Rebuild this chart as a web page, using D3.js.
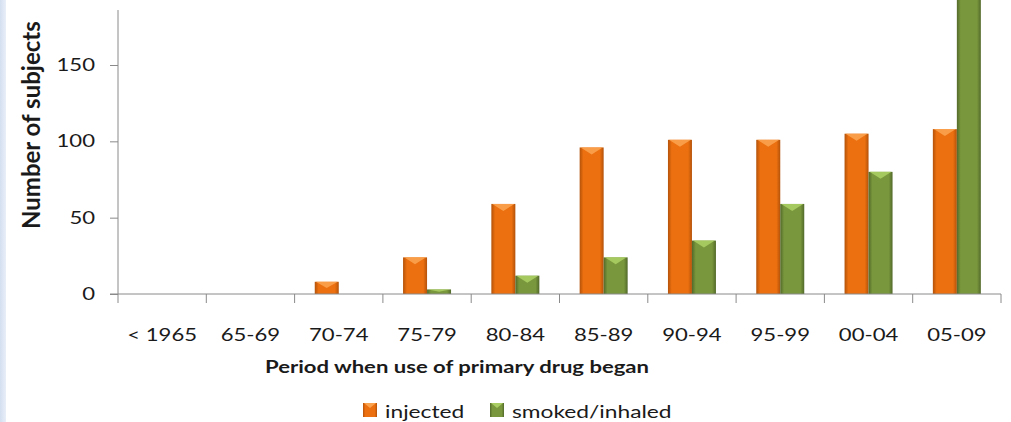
<!DOCTYPE html>
<html>
<head>
<meta charset="utf-8">
<script src="https://cdn.jsdelivr.net/npm/d3@7"></script>
<style>
  body { margin: 0; background: #fff; }
  svg { display: block; font-family: Lato, "Open Sans", sans-serif; }
</style>
</head>
<body>
<svg id="drawing" width="1011" height="422"></svg>
<script>
const categories = ["< 1965", "65-69", "70-74", "75-79", "80-84", "85-89", "90-94", "95-99", "00-04", "05-09"];
const injected = [0, 0, 8, 24, 59, 96, 101, 101, 105, 108];
const smoked = [0, 0, 0, 3, 12, 24, 35, 59, 80, 215];
const yTicks = [0, 50, 100, 150];
const seriesNames = ["injected", "smoked/inhaled"];

const colors = {
  "injected": { base: "#ec700f", edge: "#b3520a", top: "#fba24f" },
  "smoked/inhaled": { base: "#79973c", edge: "#52692a", top: "#aacd63" }
};

const svg = d3.select("svg#drawing");
const axisColor = "#8a8a8a";
const textColor = "#1a1a1a";
const stretch = 1.3; // the source picture is wide, text looks stretched

// left blue strip of the original frame
const strip = svg.append("defs").append("linearGradient").attr("id", "strip");
strip.append("stop").attr("offset", "0%").attr("stop-color", "#d3dff0");
strip.append("stop").attr("offset", "100%").attr("stop-color", "#e9eff8");
svg.append("rect")
  .attr("x", 0).attr("y", 0).attr("width", 6).attr("height", 422)
  .attr("fill", "url(#strip)");

const x0 = d3.scaleBand().domain(categories).range([118, 1001]).padding(0);
const x1 = d3.scaleBand().domain(seriesNames).range([0, x0.bandwidth()])
  .paddingInner(0).paddingOuter(0.84);
const y = d3.scaleLinear().domain([0, 150]).range([294, 65]);

// gradients for the bevelled bars
const defs = svg.append("defs");
seriesNames.forEach((s, i) => {
  const c = colors[s];
  const g = defs.append("linearGradient").attr("id", "grad" + i)
    .attr("x1", 0).attr("x2", 1).attr("y1", 0).attr("y2", 0);
  g.append("stop").attr("offset", "0%").attr("stop-color", c.edge);
  g.append("stop").attr("offset", "16%").attr("stop-color", c.base);
  g.append("stop").attr("offset", "84%").attr("stop-color", c.base);
  g.append("stop").attr("offset", "100%").attr("stop-color", c.edge);
});

const rows = [];
categories.forEach((cat, i) => {
  rows.push({ cat, s: "injected", i: 0, v: injected[i] });
  rows.push({ cat, s: "smoked/inhaled", i: 1, v: smoked[i] });
});

const bars = svg.append("g").selectAll("g.bar")
  .data(rows.filter(d => d.v > 0))
  .join("g").attr("class", "bar");

bars.append("rect")
  .attr("x", d => x0(d.cat) + x1(d.s))
  .attr("y", d => y(d.v))
  .attr("width", x1.bandwidth())
  .attr("height", d => y(0) - y(d.v))
  .attr("fill", d => "url(#grad" + d.i + ")");

bars.append("path")
  .attr("fill", d => colors[d.s].top)
  .attr("opacity", 0.9)
  .attr("d", d => {
    const bx = x0(d.cat) + x1(d.s), bw = x1.bandwidth(), by = y(d.v);
    const h = Math.min(7, (y(0) - y(d.v)) / 2);
    return `M${bx + 1},${by}L${bx + bw - 1},${by}L${bx + bw / 2},${by + h}Z`;
  });

// y axis
const yAxis = svg.append("g").attr("transform", "translate(118,0)")
  .call(d3.axisLeft(y).tickValues(yTicks).tickSize(8));
yAxis.select(".domain").remove();
yAxis.append("line").attr("x1", 0).attr("x2", 0).attr("y1", y(0)).attr("y2", y(186))
  .attr("stroke", axisColor);
yAxis.selectAll(".tick line").attr("stroke", axisColor);
yAxis.selectAll(".tick text")
  .attr("x", -23 / stretch)
  .attr("transform", `scale(${stretch},1)`)
  .attr("fill", textColor).style("font-size", "17px")
  .attr("font-family", "Lato, sans-serif");

// x axis
const xAxis = svg.append("g").attr("transform", `translate(0,${y(0)})`)
  .call(d3.axisBottom(x0).tickSize(0).tickPadding(35));
xAxis.select(".domain").remove();
xAxis.append("line").attr("x1", 110).attr("x2", 1001).attr("y1", 0).attr("y2", 0)
  .attr("stroke", axisColor);
xAxis.selectAll(".bound").data(categories.concat(["end"]))
  .join("line").attr("class", "bound")
  .attr("x1", d => d === "end" ? x0.range()[1] : x0(d))
  .attr("x2", d => d === "end" ? x0.range()[1] : x0(d))
  .attr("y1", 0).attr("y2", 9).attr("stroke", axisColor);
xAxis.selectAll(".tick text")
  .attr("transform", `scale(${stretch},1)`)
  .attr("fill", textColor).style("font-size", "17px")
  .attr("font-family", "Lato, sans-serif");

// axis titles
svg.append("text")
  .attr("transform", `translate(265,373) scale(${stretch},1)`)
  .attr("text-anchor", "start")
  .style("font-size", "17px").style("font-weight", "bold").attr("fill", textColor)
  .text("Period when use of primary drug began");

svg.append("text")
  .attr("transform", "translate(40,229) rotate(-90)")
  .attr("text-anchor", "start")
  .style("font-size", "24px").style("font-weight", "bold").attr("fill", textColor)
  .text("Number of subjects");

// legend
const legendX = [363, 490];
const legend = svg.append("g").selectAll("g")
  .data(seriesNames).join("g")
  .attr("transform", (d, i) => `translate(${legendX[i]},403)`);
legend.append("rect").attr("width", 14).attr("height", 14)
  .attr("fill", (d, i) => "url(#grad" + i + ")");
legend.append("path").attr("fill", d => colors[d].top)
  .attr("d", "M1,0L13,0L7,5Z");
legend.append("text")
  .attr("transform", `translate(22,15) scale(${stretch},1)`)
  .style("font-size", "17.5px").attr("fill", textColor)
  .text(d => d);
</script>
</body>
</html>
